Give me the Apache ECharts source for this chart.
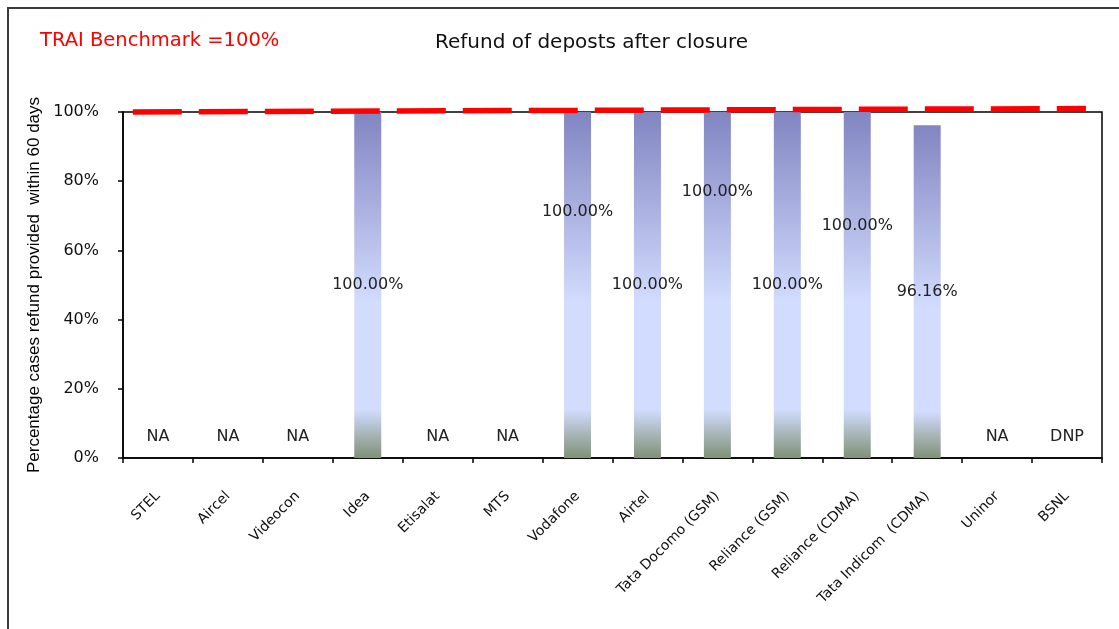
<!DOCTYPE html>
<html>
<head>
<meta charset="utf-8">
<script src="https://cdn.jsdelivr.net/npm/echarts@6/dist/echarts.min.js"></script>
<style>
  html, body { margin: 0; padding: 0; background: #fff; }
  #chart { width: 1119px; height: 629px; }
</style>
</head>
<body>
<div id="chart"></div>
<script>
// ---- data ----
const categories = ["STEL", "Aircel", "Videocon", "Idea", "Etisalat", "MTS", "Vodafone", "Airtel",
  "Tata Docomo (GSM)", "Reliance (GSM)", "Reliance (CDMA)", "Tata Indicom  (CDMA)", "Uninor", "BSNL"];
const refundPct = [null, null, null, 100, null, null, 100, 100, 100, 100, 100, 96.16, null, null];
const notes = ["NA", "NA", "NA", "", "NA", "NA", "", "", "", "", "", "", "NA", "DNP"];
const benchmarkX = [0.14, 13.77];   // position along the category band (0..14)
const benchmarkY = [100, 101];
const yTicks = [0, 20, 40, 60, 80, 100];

// ---- styling (label heights inside each bar, fraction from bar top) ----
const labelY = { 6: '29%', 8: '23%', 10: '33%' };

const FONT = 'DejaVu Sans';

const barGradient = new echarts.graphic.LinearGradient(0, 0, 0, 1, [
  { offset: 0, color: '#8185c1' },
  { offset: 0.55, color: '#d2dcfe' },
  { offset: 0.86, color: '#d2dcfe' },
  { offset: 1, color: '#7f9176' }
]);

const barData = refundPct.map((v, i) => {
  if (v === null) return null;
  return {
    value: v,
    label: { position: ['50%', labelY[i] || '50%'] }
  };
});
const noteData = notes.map(n => (n ? 0 : null));

const chart = echarts.init(document.getElementById('chart'), null, { renderer: 'canvas' });
chart.setOption({
  animation: false,
  backgroundColor: '#ffffff',
  title: [
    {
      text: 'Refund of deposts after closure',
      left: 435, top: 33, padding: 0,
      textStyle: { fontFamily: FONT, fontSize: 20, fontWeight: 'normal', color: '#111' }
    },
    {
      text: 'TRAI Benchmark =100%',
      left: 40, top: 31, padding: 0,
      textStyle: { fontFamily: FONT, fontSize: 19.5, fontWeight: 'normal', color: '#ff0000' }
    }
  ],
  graphic: [
    {
      type: 'rect', silent: true, z: 0,
      shape: { x: 8, y: 8, width: 1200, height: 700 },
      style: { fill: 'none', stroke: '#3c3c3c', lineWidth: 2 }
    }
  ],
  grid: {
    left: 123, right: 17, top: 112, bottom: 171,
    show: true, borderColor: '#000', borderWidth: 1.5, backgroundColor: 'transparent'
  },
  xAxis: [
    {
      type: 'category',
      data: categories,
      axisLine: { lineStyle: { color: '#000', width: 1.5 } },
      axisTick: { show: true, length: 5, lineStyle: { color: '#000', width: 1.5 } },
      axisLabel: {
        interval: 0, rotate: 45, margin: 36,
        fontFamily: FONT, fontSize: 14, color: '#111'
      },
      splitLine: { show: false }
    },
    { type: 'value', min: 0, max: 14, show: false }
  ],
  yAxis: {
    type: 'value',
    min: yTicks[0], max: yTicks[yTicks.length - 1], interval: 20,
    name: 'Percentage cases refund provided  within 60 days',
    nameLocation: 'middle', nameGap: 78,
    nameTextStyle: { fontFamily: 'Liberation Sans', fontSize: 17, color: '#000' },
    axisLine: { show: true, lineStyle: { color: '#000', width: 1.5 } },
    axisTick: { show: true, length: 5, lineStyle: { color: '#000', width: 1.5 } },
    axisLabel: { formatter: '{value}%', margin: 24, fontFamily: FONT, fontSize: 16, color: '#111' },
    splitLine: { show: false }
  },
  series: [
    {
      name: 'Refund',
      type: 'bar',
      data: barData,
      barWidth: 27,
      barGap: '-100%',
      itemStyle: { color: barGradient },
      label: {
        show: true,
        align: 'center', verticalAlign: 'middle',
        fontFamily: FONT, fontSize: 16, color: '#222',
        formatter: p => p.value.toFixed(2) + '%'
      },
      z: 2
    },
    {
      name: 'Notes',
      type: 'bar',
      data: noteData,
      barWidth: 27,
      barGap: '-100%',
      itemStyle: { color: 'transparent' },
      label: {
        show: true, position: 'top', distance: 13,
        fontFamily: FONT, fontSize: 16, color: '#222',
        formatter: p => notes[p.dataIndex]
      },
      z: 2
    },
    {
      name: 'TRAI Benchmark',
      type: 'line',
      xAxisIndex: 1,
      data: benchmarkX.map((x, i) => [x, benchmarkY[i]]),
      symbol: 'none',
      clip: false,
      lineStyle: { color: '#ff0000', width: 5.5, type: [49, 17] },
      z: 5
    }
  ]
});
</script>
</body>
</html>
